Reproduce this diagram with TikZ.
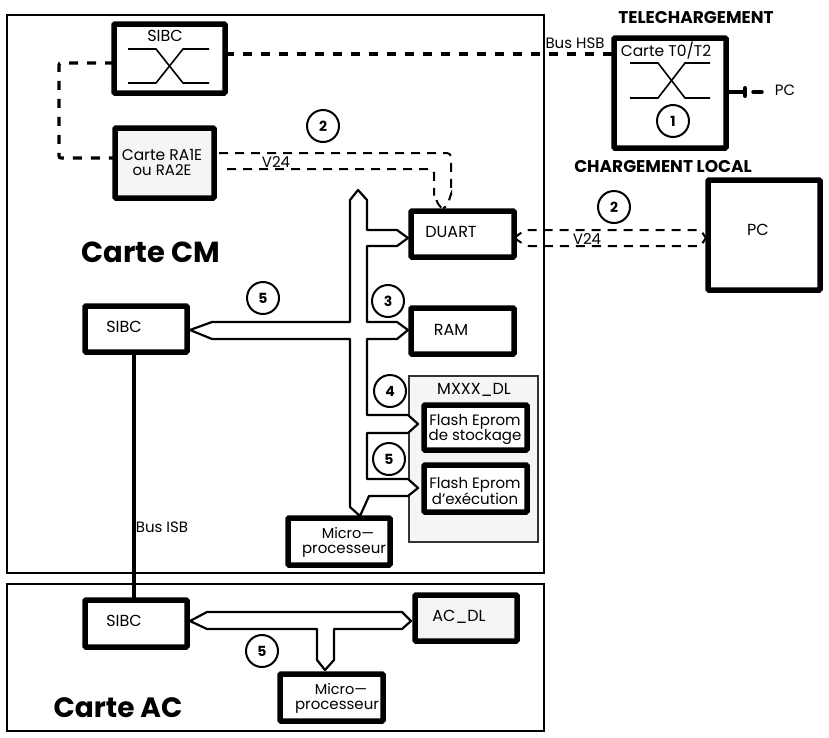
\documentclass[tikz,border=0pt]{standalone}
\usepackage{fontspec}
\setmainfont{Poppins}
\tikzset{
 x=1pt,y=-1pt,
 card/.style={draw=black,line width=2.2pt,fill=none,inner sep=0,outer sep=0},
 heavybox/.style={draw=black,line width=5.5pt,fill=white,rounded corners=1pt,inner sep=0,outer sep=0},
 graybox/.style={heavybox,fill=black!4},
 panel/.style={draw=black!80,line width=1.8pt,fill=black!4,inner sep=0,outer sep=0},
 txt/.style={inner sep=0,outer sep=0,align=center,font=\fontsize{16}{15}\selectfont},
 small/.style={txt,font=\fontsize{15}{15}\selectfont},
 title/.style={inner sep=0,outer sep=0,font=\fontsize{17}{18}\selectfont\bfseries},
 big/.style={inner sep=0,outer sep=0,font=\fontsize{29}{30}\selectfont\bfseries},
 num/.style={circle,draw=black,line width=2pt,minimum size=32pt,inner sep=0,outer sep=0,font=\fontsize{14}{14}\selectfont\bfseries},
 busline/.style={draw=black,line width=2.2pt,fill=white,line join=round},
 heavydash/.style={draw=black,line width=3.2pt,dash pattern=on 9pt off 9pt,rounded corners=2pt},
 thindash/.style={draw=black,line width=2pt,dash pattern=on 9pt off 7pt,rounded corners=4pt},
 sw/.style={draw=black,line width=1.6pt},
}
\newcommand{\bx}[6]{\node[#1,minimum width=#4pt-#2pt,minimum height=#6pt-#5pt,anchor=north west] (#3) at (#2,#5) {};}
\begin{document}
\begin{tikzpicture}
\useasboundingbox (0,0) rectangle (829,737);
% cards
\bx{card}{7}{cm}{544}{15}{573}
\bx{card}{7}{ac}{544}{584}{731}
\bx{panel}{409}{mxxx}{538}{376}{542}
% dashed bus
\coordinate (hsbA) at (59,63);
\coordinate (hsbB) at (59,158);
% boxes
\bx{heavybox}{114}{sibctop}{225}{24}{93}
\bx{graybox}{115}{ra}{214}{128}{198}
\bx{heavybox}{614}{tz}{726}{38}{148}
\bx{heavybox}{708}{pcbox}{820}{180}{290}
\bx{heavybox}{411}{duart}{514}{211}{257}
\bx{heavybox}{411}{ram}{514}{308}{354}
\bx{heavybox}{424}{fone}{527}{405}{450}
\bx{heavybox}{424}{ftwo}{527}{465}{512}
\bx{heavybox}{288}{mpu}{390}{518}{565}
\bx{heavybox}{85}{sibcl}{187}{306}{352}
\bx{heavybox}{85}{sibcac}{187}{600}{647}
\bx{graybox}{415}{acdl}{517}{595}{641}
\bx{heavybox}{280}{mpuac}{383}{674}{721}
% dashed connectors
\draw[heavydash] (sibctop.west |- hsbA) -- (hsbA) -- (hsbB) -- (ra.west |- hsbB);
\draw[heavydash] (sibctop.east |- 0,54) -- (tz.west |- 0,54);
\coordinate (pcend) at (762,92);
\coordinate (pcknot) at (745,92);
\draw[draw=black,line width=3.4pt] (tz.east |- pcknot) -- (pcknot);
\draw[draw=black,line width=4pt,line cap=round] (745,88) -- (745,96);
\draw[draw=black,line width=3.4pt,line cap=round] (753,92) -- (pcend);
% V24 local
\coordinate (rau) at (219,153);
\coordinate (ral) at (227,169);
\coordinate (duu) at (451,153);
\coordinate (dul) at (434,169);
\coordinate (dutop) at (443,208);
\draw[thindash] (rau) -- (duu) -- (451,198) to[out=90,in=0] (dutop);
\draw[thindash] (ral) -- (dul) -- (434,198) to[out=90,in=180] (dutop);
\draw[thindash] (duart.east |- 0,238) -- (525,230) -- (696,230) to[out=0,in=-90] (pcbox.west |- 0,238);
\draw[thindash] (duart.east |- 0,238) to[out=-30,in=180] (533,246) -- (696,246) to[out=0,in=90] (pcbox.west |- 0,238);
% ISB
\draw[draw=black,line width=3.2pt] (134,352) -- (134,600);
% CM bus
\draw[busline] (358,190) -- (367,200) -- (367,230) -- (397,230) -- (408,238) -- (397,246) -- (367,246)
 -- (367,322) -- (397,322) -- (408,330) -- (397,339) -- (367,339)
 -- (367,415) -- (408,415) -- (418,424) -- (408,433) -- (367,433)
 -- (367,479) -- (408,479) -- (418,488) -- (408,496) -- (369,496) -- (360,516)
 -- (350,507) -- (350,339) -- (212,339) -- (190,330) -- (212,322) -- (350,322) -- (350,200) -- cycle;
% AC bus
\draw[busline] (190,621) -- (207,612) -- (402,612) -- (411,621) -- (402,629) -- (334,629) -- (334,660) -- (325,670) -- (317,660) -- (317,629) -- (207,629) -- cycle;
% switches
\draw[sw] (128,49) -- (156,49) -- (183,83) -- (209,83);
\draw[sw] (128,83) -- (156,83) -- (183,49) -- (209,49);
\draw[sw] (630,63) -- (658,63) -- (685,98) -- (710,98);
\draw[sw] (630,98) -- (658,98) -- (685,63) -- (710,63);
% circles
\node[num] (n1) at (673,121) {1};
\node[num] (n2a) at (323,126) {2};
\node[num] (n2b) at (614,207) {2};
\node[num] (n3) at (388,301) {3};
\node[num] (n4) at (390,391) {4};
\node[num] (n5a) at (263,298) {5};
\node[num] (n5b) at (389,459) {5};
\node[num] (n5c) at (262,651) {5};
% texts
\node[txt] (t1) at (165,36) {SIBC};
\node[small] (t2) at (162,162) {\fontsize{15.5}{15}\selectfont Carte RA1E\\ou RA2E};
\node[small] (t3) at (666,51) {\fontsize{15.5}{15}\selectfont Carte T0/T2};
\node[small] (t4) at (575,43) {Bus HSB};
\node[small] (t5) at (785,90) {PC};
\node[txt] (t6) at (758,230) {PC};
\node[txt] (t7) at (451,232) {DUART};
\node[txt] (t8) at (451,330) {RAM};
\node[txt] (t9) at (124,327) {SIBC};
\node[txt] (t10) at (124,621) {SIBC};
\node[txt] (t11) at (474,390) {MXXX\_DL};
\node[small] (t12) at (475,429) {Flash Eprom\\de stockage};
\node[small] (t13) at (475,491) {Flash Eprom\\d’exécution};
\node[small] (t14) at (344,542) {\fontsize{14.5}{15}\selectfont\hspace*{8pt}Micro—\\processeur};
\node[small] (t15) at (337,698) {\fontsize{14.5}{15}\selectfont\hspace*{8pt}Micro—\\processeur};
\node[txt] (t16) at (459,617) {AC\_DL};
\node[small] (t17) at (162,527) {Bus ISB};
\node[small] (t18) at (276,162) {V24};
\node[small] (t19) at (587,239) {V24};
\node[title] (t20) at (696,18) {TELECHARGEMENT};
\node[title] (t21) at (663,167) {CHARGEMENT LOCAL};
\node[big] (t22) at (151,252) {Carte CM};
\node[big,font=\fontsize{28}{30}\selectfont\bfseries] (t23) at (118,708) {Carte AC};
\end{tikzpicture}
\end{document}
